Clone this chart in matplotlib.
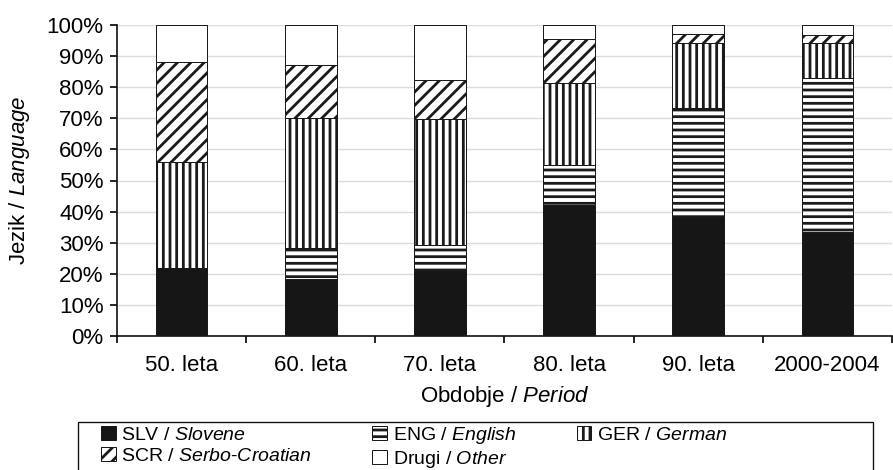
import numpy as np
import matplotlib
matplotlib.use("Agg")
import matplotlib.pyplot as plt
from matplotlib.patches import Rectangle

plt.rcParams['font.family'] = ['Liberation Sans', 'DejaVu Sans']
plt.rcParams['mathtext.fontset'] = 'custom'
plt.rcParams['mathtext.rm'] = 'Liberation Sans'
plt.rcParams['mathtext.it'] = 'Liberation Sans:italic'
plt.rcParams['hatch.linewidth'] = 2.5

# values (percent of each period)
periods = ["50. leta", "60. leta", "70. leta", "80. leta", "90. leta", "2000-2004"]
slv = [22.0, 18.3, 21.0, 42.0, 38.4, 33.5]
eng = [0.0, 10.0, 8.3, 13.0, 35.0, 49.4]
ger = [34.0, 41.7, 40.5, 26.5, 20.8, 11.2]
scr = [32.0, 17.0, 12.5, 13.9, 2.8, 2.8]
other = [12.0, 13.0, 17.7, 4.6, 3.0, 3.1]
y_ticks = [0, 10, 20, 30, 40, 50, 60, 70, 80, 90, 100]

series = [
    (slv, "SLV / $\\mathit{Slovene}$", "#161616", None),
    (eng, "ENG / $\\mathit{English}$", "white", "--"),
    (ger, "GER / $\\mathit{German}$", "white", "||"),
    (scr, "SCR / $\\mathit{Serbo}$-$\\mathit{Croatian}$", "white", "//"),
    (other, "Drugi / $\\mathit{Other}$", "white", None),
]

dpi = 80
fig = plt.figure(figsize=(893 / dpi, 470 / dpi), dpi=dpi)
ax = fig.add_axes([117 / 893, 1 - 336 / 470, (892 - 117) / 893, (336 - 25) / 470])

x = np.arange(len(periods))
bottom = np.zeros(len(periods))
handles = []
for vals, label, color, hatch in series:
    vals = np.array(vals)
    b = ax.bar(x, vals, 0.4, bottom=bottom, color=color, hatch=hatch,
               edgecolor="#1a1a1a", linewidth=0.9, label=label, zorder=3)
    handles.append(b)
    bottom += vals

ax.set_xlim(-0.5, len(periods) - 0.5)
ax.set_ylim(0, 100)
ax.set_yticks(y_ticks)
ax.set_yticklabels([f"{t}%" for t in y_ticks])
ax.yaxis.grid(True, color="#dcdcdc", linewidth=1.3, zorder=0)
ax.set_axisbelow(True)

ax.set_xticks(x)
ax.set_xticklabels(periods)
ax.set_xticks(np.arange(len(periods) + 1) - 0.5, minor=True)
ax.tick_params(axis="x", which="major", length=0, pad=17, labelsize=20)
ax.tick_params(axis="x", which="minor", length=6, width=1.5, direction="out")
ax.tick_params(axis="y", length=6, width=1.5, pad=6, labelsize=20)

for s in ["top", "right"]:
    ax.spines[s].set_visible(False)
for s in ["left", "bottom"]:
    ax.spines[s].set_linewidth(1.5)
    ax.spines[s].set_color("#111111")

ax.set_ylabel("Jezik / $\\mathit{Language}$", fontsize=20, labelpad=13)
ax.set_xlabel("Obdobje / $\\mathit{Period}$", fontsize=20, labelpad=7)

# legend frame (runs off the bottom of the figure)
fig.patches.append(Rectangle((78 / 893, -0.1), (873 - 78) / 893, 0.1 + (470 - 422) / 470,
                             transform=fig.transFigure, fill=False,
                             edgecolor="#111111", linewidth=1.2))

order = [0, 3, 1, 4, 2]
fig.legend([handles[i] for i in order], [series[i][1] for i in order],
           ncol=3, loc="upper left", bbox_to_anchor=(101 / 893, 1 - 425 / 470),
           frameon=False, fontsize=17.5, handlelength=0.75, handleheight=0.75,
           handletextpad=0.3, columnspacing=3.1, labelspacing=0.15,
           borderpad=0, borderaxespad=0)

fig.savefig("out.png", dpi=dpi)
